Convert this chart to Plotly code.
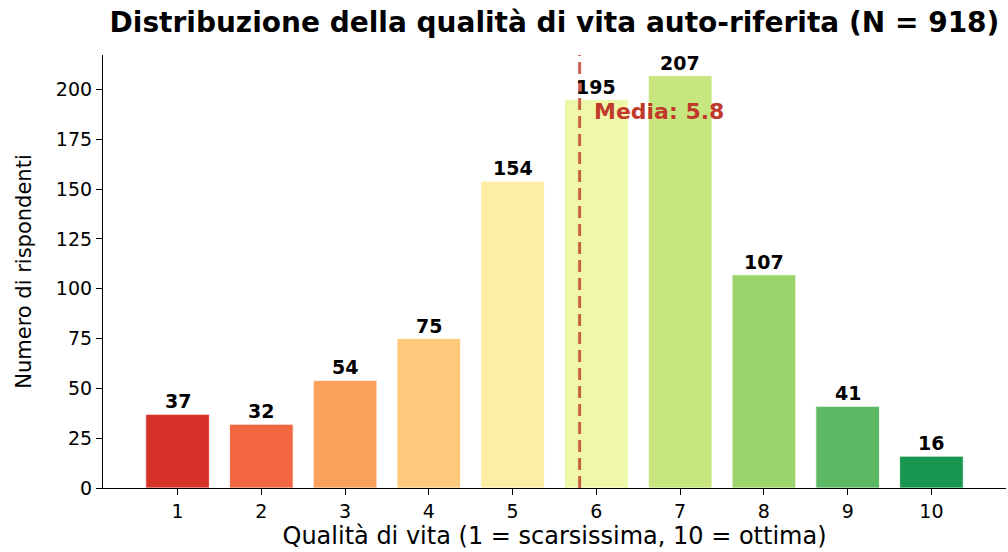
import plotly.graph_objects as go

scores = [1, 2, 3, 4, 5, 6, 7, 8, 9, 10]
counts = [37, 32, 54, 75, 154, 195, 207, 107, 41, 16]
colors = ["#d73229", "#f26742", "#fba15c", "#fec97a", "#feeea5",
          "#eef8a8", "#c8e680", "#9bd46a", "#5cb863", "#199750"]
mean_value = 5.8
y_ticks = [0, 25, 50, 75, 100, 125, 150, 175, 200]

title = "Distribuzione della qualità di vita auto-riferita (N = 918)"
x_title = "Qualità di vita (1 = scarsissima, 10 = ottima)"
y_title = "Numero di rispondenti"

FONT = "DejaVu Sans"

fig = go.Figure()
fig.add_trace(go.Bar(
    x=scores, y=counts, width=0.76,
    marker=dict(color=colors, line=dict(color="white", width=0.8)),
    hoverinfo="x+y",
))

for s, c in zip(scores, counts):
    fig.add_annotation(x=s, y=c, text=f"<b>{c}</b>", showarrow=False,
                       yanchor="bottom", yshift=0,
                       font=dict(family=FONT, size=19, color="black"))

fig.add_shape(type="line", xref="x", yref="paper", x0=mean_value, x1=mean_value,
              y0=0, y1=1, line=dict(color="rgba(192,57,43,0.8)", width=3, dash="12px,6px"))
fig.add_annotation(x=mean_value + 0.15, y=max(counts) * 0.92, text=f"<b>Media: {mean_value}</b>",
                   showarrow=False, xanchor="left", yanchor="middle", yshift=-3,
                   font=dict(family=FONT, size=22, color="#c0392b"))

fig.update_layout(
    width=1008, height=552,
    margin=dict(l=103, r=2, t=55, b=64),
    paper_bgcolor="white", plot_bgcolor="white",
    showlegend=False,
    bargap=0.2,
    title=dict(text=f"<b>{title}</b>", x=0.5, xref="paper", xanchor="center",
               y=0.96, yref="container", yanchor="middle",
               font=dict(family=FONT, size=28, color="black")),
    font=dict(family=FONT, color="black"),
)
fig.update_xaxes(
    range=[0.11, 10.89], tickmode="array", tickvals=scores, ticktext=[str(s) for s in scores],
    showline=True, linecolor="black", linewidth=1.2, ticks="outside", ticklen=6,
    tickcolor="black", showgrid=False, zeroline=False,
    tickfont=dict(family=FONT, size=19),
    title=dict(text=x_title, font=dict(family=FONT, size=24), standoff=6),
)
fig.update_yaxes(
    range=[0, 217.35], tickmode="array", tickvals=y_ticks,
    showline=True, linecolor="black", linewidth=1.2, ticks="outside", ticklen=6,
    tickcolor="black", showgrid=False, zeroline=False,
    tickfont=dict(family=FONT, size=19),
    title=dict(text=y_title, font=dict(family=FONT, size=21), standoff=18),
)

fig.write_html("out.html", config={"displayModeBar": False},
               post_script="document.body.style.margin='0';")
